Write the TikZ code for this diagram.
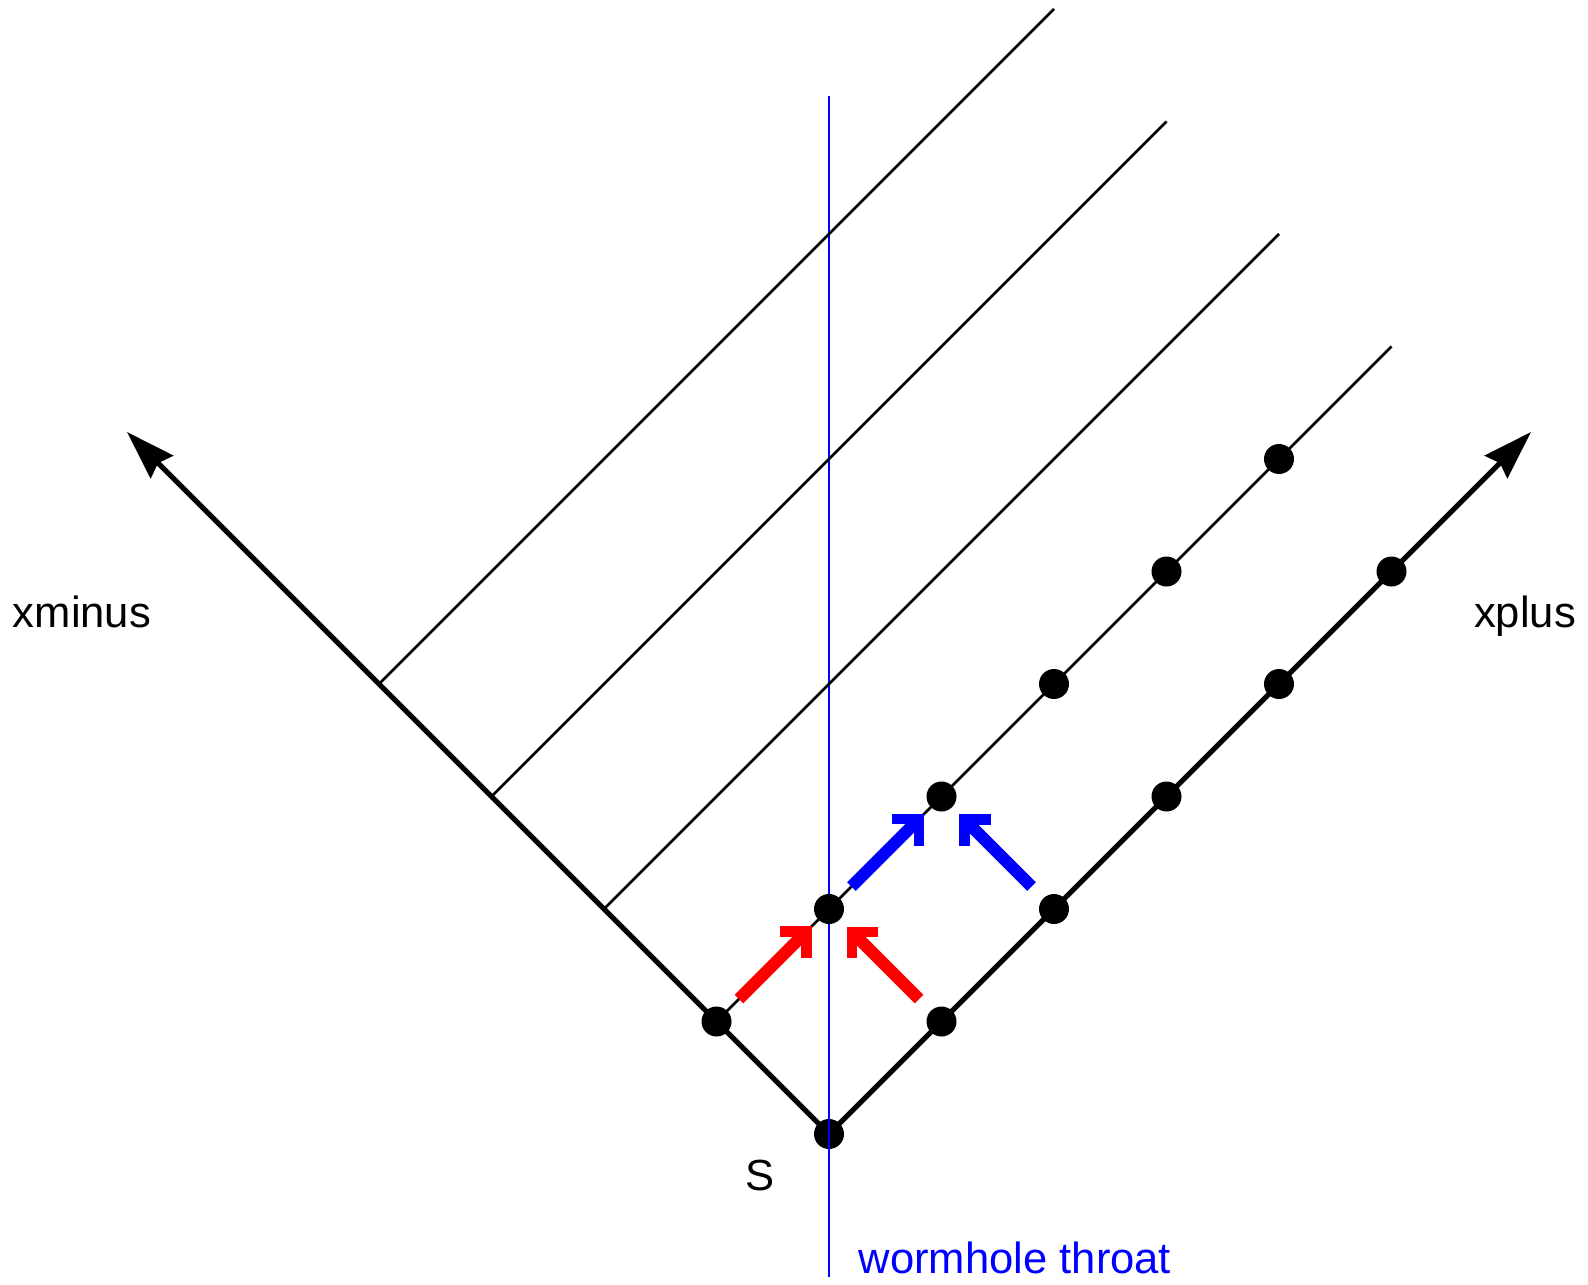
\documentclass[tikz,border=0pt]{standalone}
\usepackage{fontspec}
\setmainfont{Liberation Sans}
\usepackage{xcolor}
\usetikzlibrary{arrows.meta, calc}

\begin{document}
\begin{tikzpicture}[
    x={(11.25mm,11.25mm)}, y={(-11.25mm,11.25mm)},
    dot/.style={circle, fill=black, inner sep=0pt, minimum size=3mm},
    axis/.style={draw, line width=1.5pt,
                 -{Stealth[length=14pt, width=9pt, inset=1.5pt]}},
    ray/.style={draw, line width=0.8pt},
    throat/.style={draw, blue, line width=0.85pt},
    push/.style={draw, line width=3.5pt,
                 -{Straight Barb[angle=90:7.5pt, line width=3pt]}},
    lbl/.style={font=\fontsize{12.4}{14}\selectfont, anchor=base, inner sep=0pt}
]
    \useasboundingbox (-8.29cm,-1.50cm) rectangle (7.59cm,11.34cm);

    % wormhole throat
    \coordinate (wtop) at (0cm,10.38cm);
    \coordinate (wbot) at (0cm,-1.43cm);
    \draw[throat] (wtop) -- (wbot);

    % source and lattice points
    \node[dot] (S)   at (0,0) {};
    \node[dot] (p01) at (0,1) {};
    \node[dot] (p11) at (1,1) {};
    \node[dot] (p21) at (2,1) {};
    \node[dot] (p31) at (3,1) {};
    \node[dot] (p41) at (4,1) {};
    \node[dot] (p51) at (5,1) {};
    \node[dot] (p10) at (1,0) {};
    \node[dot] (p20) at (2,0) {};
    \node[dot] (p30) at (3,0) {};
    \node[dot] (p40) at (4,0) {};
    \node[dot] (p50) at (5,0) {};

    % ends of the null axes
    \coordinate (xm) at (0,6.24);
    \coordinate (xp) at (6.24,0);

    % points where the rays leave the left axis
    \coordinate (m2) at (0,2);
    \coordinate (m3) at (0,3);
    \coordinate (m4) at (0,4);

    % far ends of the rays
    \coordinate (e1) at (6,1);
    \coordinate (e2) at (6,2);
    \coordinate (e3) at (6,3);
    \coordinate (e4) at (6,4);

    \draw[ray] (p01.center) -- (e1);
    \draw[ray] (m2) -- (e2);
    \draw[ray] (m3) -- (e3);
    \draw[ray] (m4) -- (e4);

    \draw[axis] (S.center) -- (xm);
    \draw[axis] (S.center) -- (xp);

    % throat stays visible across S
    \draw[throat] (S.north) -- (S.south);

    % update arrows
    \coordinate (ra) at (0.2,1);
    \coordinate (rb) at (1,0.2);
    \coordinate (ba) at (1.2,1);
    \coordinate (bb) at (2,0.2);
    \draw[push, red]  (ra) -- (0.845,1);
    \draw[push, red]  (rb) -- (1,0.843);
    \draw[push, blue] (ba) -- (1.845,1);
    \draw[push, blue] (bb) -- (2,0.843);

    % labels
    \node[lbl] (lm) at (-7.47cm,5.07cm) {xminus};
    \node[lbl] (lp) at (6.96cm,5.07cm) {xplus};
    \node[lbl] (ls) at (-0.69cm,-0.56cm) {S};
    \node[lbl, anchor=base west, text=blue] (lw) at (0.29cm,-1.39cm) {wormhole throat};

\end{tikzpicture}
\end{document}
